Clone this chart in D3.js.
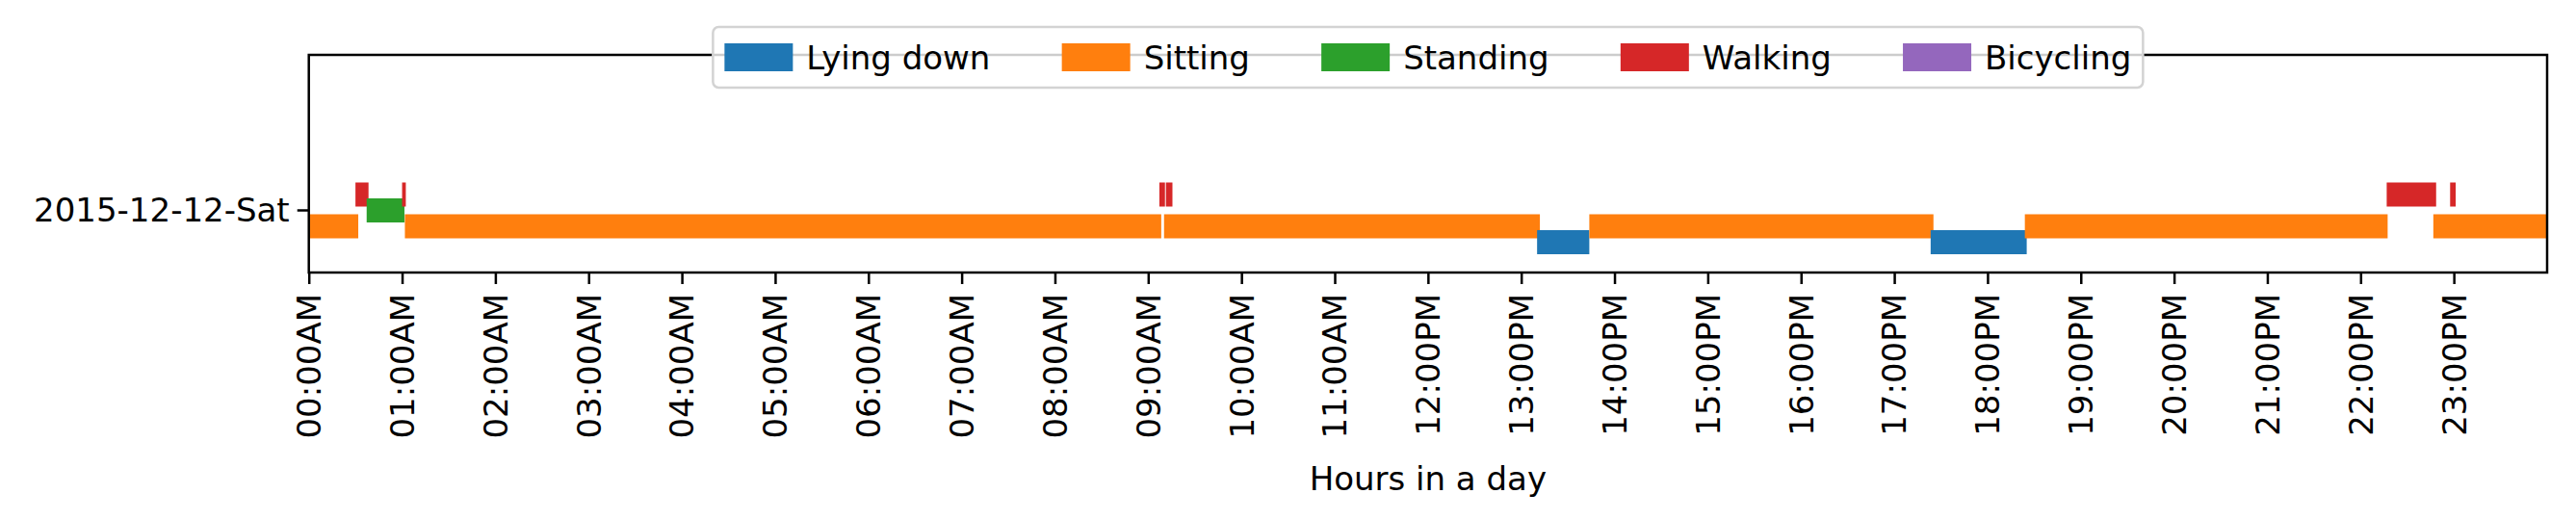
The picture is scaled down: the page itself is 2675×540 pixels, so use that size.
<!DOCTYPE html>
<html><head><meta charset="utf-8">
<script src="https://cdn.jsdelivr.net/npm/d3@7"></script>
<style>body{margin:0;background:#fff}text{font-family:"DejaVu Sans";}</style>
</head><body><svg id="c" width="2675" height="540"></svg>
<script>
const categories = ["Lying down","Sitting","Standing","Walking","Bicycling"];
const colors = ["#1f77b4","#ff7f0e","#2ca02c","#d62728","#9467bd"];
const dayLabel = "2015-12-12-Sat";
const segStart = [0, 0.50, 0.62, 1.00, 1.03, 9.12, 9.19, 9.17, 13.17, 13.73, 17.39, 18.40, 22.28, 22.96, 22.78];
const segEnd   = [0.53, 0.64, 1.025, 1.04, 9.14, 9.18, 9.26, 13.20, 13.73, 17.42, 18.42, 22.29, 22.81, 23.02, 24.0];
const segAct   = ["Sitting","Walking","Standing","Walking","Sitting","Walking","Walking","Sitting","Lying down","Sitting","Lying down","Sitting","Walking","Walking","Sitting"];
const tickHours = d3.range(0,24);
const tickLabels = tickHours.map(h => String(h).padStart(2,"0")+":00"+(h<12?"AM":"PM"));

const FS = 34;
const svg = d3.select("#c");
const L=320.7,R=2645,T=57,B=283;
const x = d3.scaleLinear().domain([0,24]).range([L,R]);
const yc = 218.5;
const off = d3.scaleOrdinal().domain(categories).range([33,16.5,0,-16.5,-33]);
const col = d3.scaleOrdinal().domain(categories).range(colors);
const bh = 25;

svg.append("g").selectAll("rect").data(segAct.map((a,i)=>({a,s:segStart[i],e:segEnd[i]}))).join("rect")
  .attr("x",d=>x(d.s)).attr("width",d=>x(d.e)-x(d.s))
  .attr("y",d=>yc+off(d.a)-bh/2).attr("height",bh).attr("fill",d=>col(d.a));

svg.append("rect").attr("x",L).attr("y",T).attr("width",R-L).attr("height",B-T)
  .attr("fill","none").attr("stroke","#000").attr("stroke-width",2.5);

const xa = svg.append("g").attr("transform",`translate(0,${B})`)
  .call(d3.axisBottom(x).tickValues(tickHours).tickFormat((d,i)=>tickLabels[i]).tickSize(12).tickPadding(0));
xa.select(".domain").remove();
xa.selectAll("line").attr("stroke","#000").attr("stroke-width",2.5);
xa.selectAll("text").attr("font-size",FS).attr("fill","#000")
  .attr("transform","rotate(-90)").attr("text-anchor","end")
  .attr("x",-22).attr("y",0).attr("dy","0.35em");

svg.append("line").attr("x1",L-12).attr("x2",L).attr("y1",yc).attr("y2",yc).attr("stroke","#000").attr("stroke-width",2.5);
svg.append("text").attr("x",L-20).attr("y",yc).attr("dy","0.35em").attr("text-anchor","end")
  .attr("font-size",FS).text(dayLabel);

svg.append("text").attr("x",(L+R)/2).attr("y",509).attr("text-anchor","middle").attr("font-size",FS).text("Hours in a day");

// legend
const targetW = 1485;
const lg = svg.append("g");
const box = lg.append("rect").attr("y",28).attr("height",63).attr("rx",6)
  .attr("fill","rgba(255,255,255,0.8)").attr("stroke","#d3d3d3").attr("stroke-width",2.5);
const gs = [], widths = [];
categories.forEach((c,i)=>{
  const g = lg.append("g");
  g.append("rect").attr("y",45).attr("width",71).attr("height",29).attr("fill",colors[i]);
  const t = g.append("text").attr("y",60).attr("dy","0.35em").attr("font-size",FS).text(c);
  gs.push(g); widths.push(t.node().getComputedTextLength());
});
const inner = widths.reduce((a,b)=>a+b,0) + categories.length*85;
const gap = (targetW - 24 - inner)/(categories.length-1);
const lx = (L+R)/2 - targetW/2;
box.attr("x",lx).attr("width",targetW);
let cx = lx+12;
gs.forEach((g,i)=>{
  g.select("rect").attr("x",cx);
  g.select("text").attr("x",cx+85);
  cx += 85 + widths[i] + gap;
});
</script></body></html>
